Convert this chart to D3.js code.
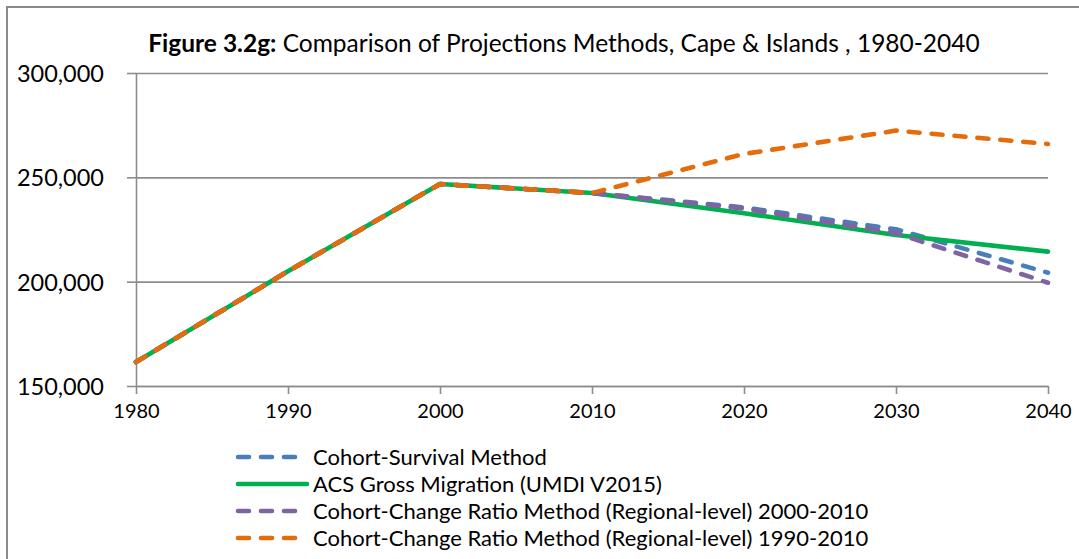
<!DOCTYPE html>
<html>
<head>
<meta charset="utf-8">
<script src="https://cdn.jsdelivr.net/npm/d3@7"></script>
<style>
  body { margin: 0; background: #fff; }
  svg { display: block; font-family: Lato, 'Open Sans', sans-serif; }
</style>
</head>
<body>
<script>
// data
let years = [1980, 1990, 2000, 2010, 2020, 2030, 2040]
let cohortSurvival = [161500, 205000, 246800, 242500, 235600, 225100, 204300]
let acsGross = [161500, 205000, 246800, 242500, 232800, 222400, 214400]
let ccr2000 = [161500, 205000, 246800, 242500, 235000, 223200, 199500]
let ccr1990 = [161500, 205000, 246800, 242500, 261200, 272400, 266000]
let yTicks = [150000, 200000, 250000, 300000]
let seriesNames = [
  'Cohort-Survival Method',
  'ACS Gross Migration (UMDI V2015)',
  'Cohort-Change Ratio Method (Regional-level) 2000-2010',
  'Cohort-Change Ratio Method (Regional-level) 1990-2010'
]

let W = 1079, H = 559
let plot = { left: 136, right: 1048, top: 73, bottom: 386 }

let series = [
  { name: seriesNames[0], values: cohortSurvival, color: '#4a7ebb', dash: '11 12' },
  { name: seriesNames[1], values: acsGross, color: '#00b050', dash: null },
  { name: seriesNames[2], values: ccr2000, color: '#8064a2', dash: '11 12' },
  { name: seriesNames[3], values: ccr1990, color: '#e46c0a', dash: '11 12' }
]

let x = d3.scaleLinear().domain([1980, 2040]).range([plot.left, plot.right])
let y = d3.scaleLinear().domain([150000, 300000]).range([plot.bottom, plot.top])

let svg = d3.select('body')
  .append('svg')
  .attr('width', W)
  .attr('height', H)

//chart frame
svg.append('rect')
  .attr('x', 7).attr('y', 7)
  .attr('width', W + 10).attr('height', H + 10)
  .attr('fill', 'white')
  .attr('stroke', '#898989')
  .attr('stroke-width', 2)

//title
let title = svg.append('text')
  .attr('x', 564)
  .attr('y', 52)
  .attr('text-anchor', 'middle')
  .attr('font-size', 24.5)
  .attr('fill', '#000')
title.append('tspan').attr('font-weight', 'bold').text('Figure 3.2g:')
title.append('tspan').text(' Comparison of Projections Methods, Cape & Islands , 1980-2040')

//gridlines
svg.append('g')
  .attr('transform', 'translate(' + plot.left + ',0)')
  .call(d3.axisLeft(y).tickValues(yTicks).tickSize(-(plot.right - plot.left)).tickFormat(''))
  .call(g => g.select('.domain').remove())
  .call(g => g.selectAll('line').attr('stroke', '#8c8c8c').attr('stroke-width', 1.6))

//y axis
let yAxis = svg.append('g')
  .attr('transform', 'translate(' + plot.left + ',0)')
  .call(d3.axisLeft(y).tickValues(yTicks).tickSize(9).tickPadding(23).tickSizeOuter(0)
    .tickFormat(d3.format(',')))
yAxis.select('.domain').attr('stroke', '#8c8c8c').attr('stroke-width', 1.6)
yAxis.selectAll('line').attr('stroke', '#8c8c8c').attr('stroke-width', 1.6)
yAxis.selectAll('text')
  .attr('font-size', 23.5)
  .attr('font-family', 'Lato, sans-serif')
  .attr('fill', '#000')
  .attr('dy', '0.36em')

//x axis
let xAxis = svg.append('g')
  .attr('transform', 'translate(0,' + plot.bottom + ')')
  .call(d3.axisBottom(x).tickValues(years).tickSize(8).tickPadding(10).tickSizeOuter(0)
    .tickFormat(d3.format('d')))
xAxis.select('.domain').attr('stroke', '#8c8c8c').attr('stroke-width', 1.6)
xAxis.selectAll('line').attr('stroke', '#8c8c8c').attr('stroke-width', 1.6)
xAxis.selectAll('text')
  .attr('font-size', 20)
  .attr('font-family', 'Lato, sans-serif')
  .attr('fill', '#000')

//lines
let line = d3.line()
  .x((d, i) => x(years[i]))
  .y(d => y(d))

svg.append('g')
  .selectAll('path')
  .data(series)
  .enter()
  .append('path')
  .attr('d', d => line(d.values))
  .attr('fill', 'none')
  .attr('stroke', d => d.color)
  .attr('stroke-width', 4.6)
  .attr('stroke-linecap', 'round')
  .attr('stroke-linejoin', 'round')
  .attr('stroke-dasharray', d => d.dash)

//legend
let legend = svg.append('g')
  .attr('class', 'legend')
  .selectAll('g')
  .data(series)
  .enter()
  .append('g')
  .attr('transform', (d, i) => 'translate(0,' + (457 + i * 27) + ')')

legend.append('line')
  .attr('x1', 238)
  .attr('x2', d => d.dash ? 300 : 307)
  .attr('stroke', d => d.color)
  .attr('stroke-width', 4.6)
  .attr('stroke-linecap', 'round')
  .attr('stroke-dasharray', d => d.dash ? '11 12' : null)

legend.append('text')
  .attr('x', 313)
  .attr('dy', '0.36em')
  .attr('font-size', 22)
  .attr('fill', '#000')
  .text(d => d.name)
</script>
</body>
</html>
